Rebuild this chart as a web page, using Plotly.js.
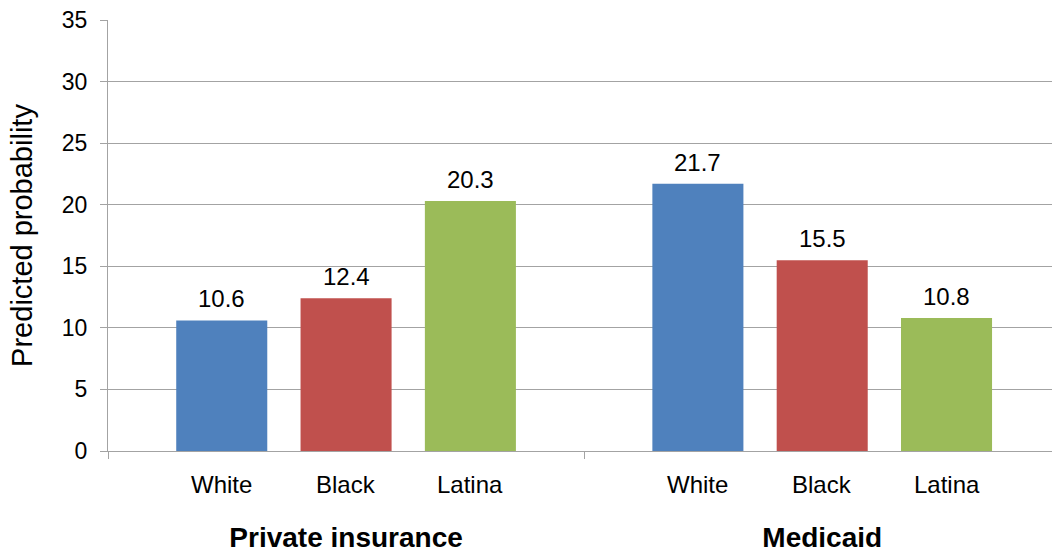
<!DOCTYPE html>
<html>
<head>
<meta charset="utf-8">
<script src="https://cdn.plot.ly/plotly-3.0.1.min.js"></script>
<style>
  html, body { margin: 0; padding: 0; background: #ffffff; }
  #chart { width: 1052px; height: 553px; }
</style>
</head>
<body>
<div id="chart"></div>
<script>
// ---- data ----
const groups = ['Private insurance', 'Medicaid'];
const races = ['White', 'Black', 'Latina'];
const whiteValues = [10.6, 21.7];
const blackValues = [12.4, 15.5];
const latinaValues = [20.3, 10.8];
const yTickVals = [0, 5, 10, 15, 20, 25, 30, 35];

// ---- styling ----
const seriesValues = [whiteValues, blackValues, latinaValues];
const colors = ['#4F81BD', '#C0504D', '#9BBB59'];
const FONT = 'Arial, "Liberation Sans", sans-serif';
const BARGAP = 0.2167;
const BARGROUPGAP = 0.2677;
const gridColor = '#A3A3A3';

const traces = races.map((r, j) => ({
  type: 'bar',
  name: r,
  x: groups,
  y: seriesValues[j],
  marker: { color: colors[j], line: { width: 0 } },
  hoverinfo: 'x+y+name'
}));

// labels positioned from the bar layout parameters
const slot = (1 - BARGAP) / races.length;
const annotations = [];
groups.forEach((g, gi) => {
  races.forEach((r, j) => {
    const xc = gi + (j - (races.length - 1) / 2) * slot;
    // category label under the bar
    annotations.push({
      xref: 'x', yref: 'y',
      x: xc, y: 0,
      yanchor: 'middle', xanchor: 'center',
      yshift: -33,
      text: r,
      showarrow: false,
      font: { family: FONT, size: 24, color: '#000000' }
    });
    // value label above the bar
    annotations.push({
      xref: 'x', yref: 'y',
      x: xc, y: seriesValues[j][gi],
      yanchor: 'bottom', xanchor: 'center',
      yshift: 6,
      text: seriesValues[j][gi].toFixed(1),
      showarrow: false,
      font: { family: FONT, size: 24, color: '#000000' }
    });
  });
});

const layout = {
  width: 1052,
  height: 553,
  margin: { l: 108, r: 0, t: 20, b: 102, pad: 0 },
  paper_bgcolor: '#ffffff',
  plot_bgcolor: '#ffffff',
  showlegend: false,
  barmode: 'group',
  bargap: BARGAP,
  bargroupgap: BARGROUPGAP,
  font: { family: FONT, color: '#000000' },
  xaxis: {
    type: 'category',
    range: [-0.5, 1.4826],
    tickson: 'boundaries',
    ticks: 'outside',
    ticklen: 7,
    tickcolor: gridColor,
    tickwidth: 1,
    showline: true,
    linecolor: gridColor,
    linewidth: 1,
    showgrid: false,
    zeroline: false,
    ticklabelstandoff: 61,
    tickfont: { family: FONT, size: 28, color: '#000000', weight: 'bold' },
    fixedrange: true
  },
  yaxis: {
    range: [0, 35],
    tickmode: 'array',
    tickvals: yTickVals,
    ticktext: yTickVals.map(String),
    ticks: 'outside',
    ticklen: 7,
    tickcolor: gridColor,
    tickwidth: 1,
    showline: true,
    linecolor: gridColor,
    linewidth: 1,
    showgrid: true,
    gridcolor: gridColor,
    gridwidth: 1,
    zeroline: false,
    ticklabelstandoff: 8,
    tickfont: { family: FONT, size: 23, color: '#000000' },
    title: {
      text: 'Predicted probability',
      font: { family: FONT, size: 29, color: '#000000' },
      standoff: 20
    },
    automargin: false,
    fixedrange: true
  },
  annotations: annotations
};

Plotly.newPlot('chart', traces, layout, { displayModeBar: false, staticPlot: true });
</script>
</body>
</html>
